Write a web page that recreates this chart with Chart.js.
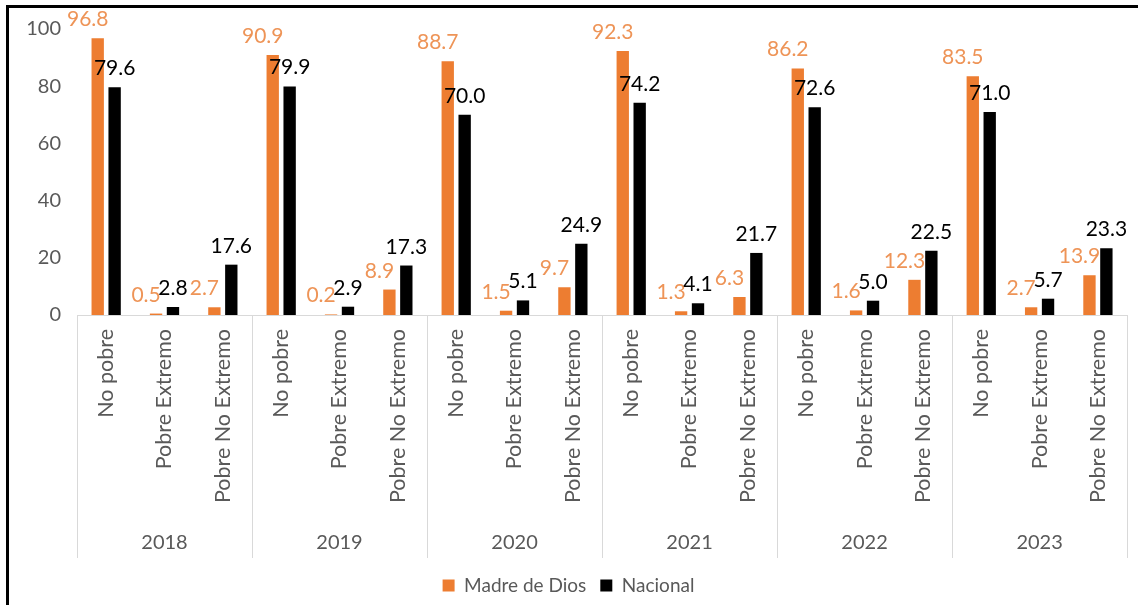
<!DOCTYPE html>
<html>
<head>
<meta charset="utf-8">
<script src="https://cdn.jsdelivr.net/npm/chart.js@4.4.1/dist/chart.umd.min.js"></script>
<style>
  html, body { margin: 0; padding: 0; background: #fff; }
  body { width: 1138px; height: 605px; overflow: hidden; position: relative; }
  .frame { position: absolute; left: 6px; top: 5px; right: 0; bottom: 0; border-left: 3px solid #000; border-top: 3px solid #000; }
  .frame canvas { display: block; }
</style>
</head>
<body>
<div class="frame"><canvas id="chart" width="1129" height="597"></canvas></div>
<script>
const years = ['2018', '2019', '2020', '2021', '2022', '2023'];
const groups = ['No pobre', 'Pobre Extremo', 'Pobre No Extremo'];
const seriesNames = ['Madre de Dios', 'Nacional'];
const madreDeDios = [96.8, 0.5, 2.7, 90.9, 0.2, 8.9, 88.7, 1.5, 9.7, 92.3, 1.3, 6.3, 86.2, 1.6, 12.3, 83.5, 2.7, 13.9];
const nacional = [79.6, 2.8, 17.6, 79.9, 2.9, 17.3, 70.0, 5.1, 24.9, 74.2, 4.1, 21.7, 72.6, 5.0, 22.5, 71.0, 5.7, 23.3];

const barColors = ['#ED7D31', '#000000'];
const labelColors = ['#EE9457', '#000000'];
const labelShift = [-10, 0];
const axisGray = '#595959';
const lineGray = '#d9d9d9';
const font = 'Lato, "Open Sans", sans-serif';

// one category per year/group pair
const categories = years.flatMap(year => groups.map(group => `${year} ${group}`));

const valueLabels = {
  id: 'valueLabels',
  afterDatasetsDraw(chart) {
    const { ctx } = chart;
    ctx.save();
    ctx.font = `21px ${font}`;
    ctx.textAlign = 'center';
    ctx.textBaseline = 'alphabetic';
    chart.data.datasets.forEach((dataset, i) => {
      ctx.fillStyle = labelColors[i];
      chart.getDatasetMeta(i).data.forEach((bar, j) => {
        ctx.fillText(dataset.data[j].toFixed(1), bar.x + labelShift[i], bar.y - 12);
      });
    });
    ctx.restore();
  }
};

const yearAxis = {
  id: 'yearAxis',
  afterDraw(chart) {
    const { ctx } = chart;
    const x = chart.scales.x;
    const step = x.getPixelForValue(1) - x.getPixelForValue(0);
    const bottom = x.top + 243;
    ctx.save();
    ctx.strokeStyle = lineGray;
    ctx.lineWidth = 1;
    ctx.fillStyle = axisGray;
    ctx.font = `20px ${font}`;
    ctx.textAlign = 'center';
    ctx.textBaseline = 'middle';
    years.forEach((year, i) => {
      const left = x.getPixelForValue(i * groups.length) - step / 2;
      const right = left + step * groups.length;
      ctx.beginPath();
      ctx.moveTo(Math.round(left) + 0.5, x.top);
      ctx.lineTo(Math.round(left) + 0.5, bottom);
      if (i === years.length - 1) {
        ctx.moveTo(Math.round(right) + 0.5, x.top);
        ctx.lineTo(Math.round(right) + 0.5, bottom);
      }
      ctx.stroke();
      ctx.fillText(year, (left + right) / 2, x.top + 228);
    });
    ctx.restore();
  }
};

new Chart(document.getElementById('chart'), {
  type: 'bar',
  data: {
    labels: categories,
    datasets: [
      { label: seriesNames[0], data: madreDeDios, backgroundColor: barColors[0], categoryPercentage: 0.58, barPercentage: 0.73 },
      { label: seriesNames[1], data: nacional, backgroundColor: barColors[1], categoryPercentage: 0.58, barPercentage: 0.73 }
    ]
  },
  options: {
    responsive: false,
    animation: false,
    layout: { padding: { top: 21, right: 10, bottom: 0, left: 0 } },
    plugins: {
      tooltip: { enabled: false },
      legend: {
        position: 'bottom',
        labels: { color: axisGray, font: { family: font, size: 19 }, boxWidth: 12, boxHeight: 12, padding: 14 }
      }
    },
    scales: {
      x: {
        grid: { display: false, drawTicks: false },
        border: { display: true, color: lineGray },
        ticks: {
          autoSkip: false, maxRotation: 90, minRotation: 90, padding: 14,
          color: axisGray, font: { family: font, size: 21.5 },
          callback: (value, index) => groups[index % groups.length]
        },
        afterFit: scale => { scale.height = 247; }
      },
      y: {
        min: 0, max: 100,
        grid: { display: false, drawTicks: false },
        border: { display: false },
        ticks: { stepSize: 20, padding: 16, color: axisGray, font: { family: font, size: 20 } },
        afterFit: scale => { scale.width = 68; scale.paddingTop = 0; scale.paddingBottom = 0; }
      }
    }
  },
  plugins: [valueLabels, yearAxis]
});
</script>
</body>
</html>
